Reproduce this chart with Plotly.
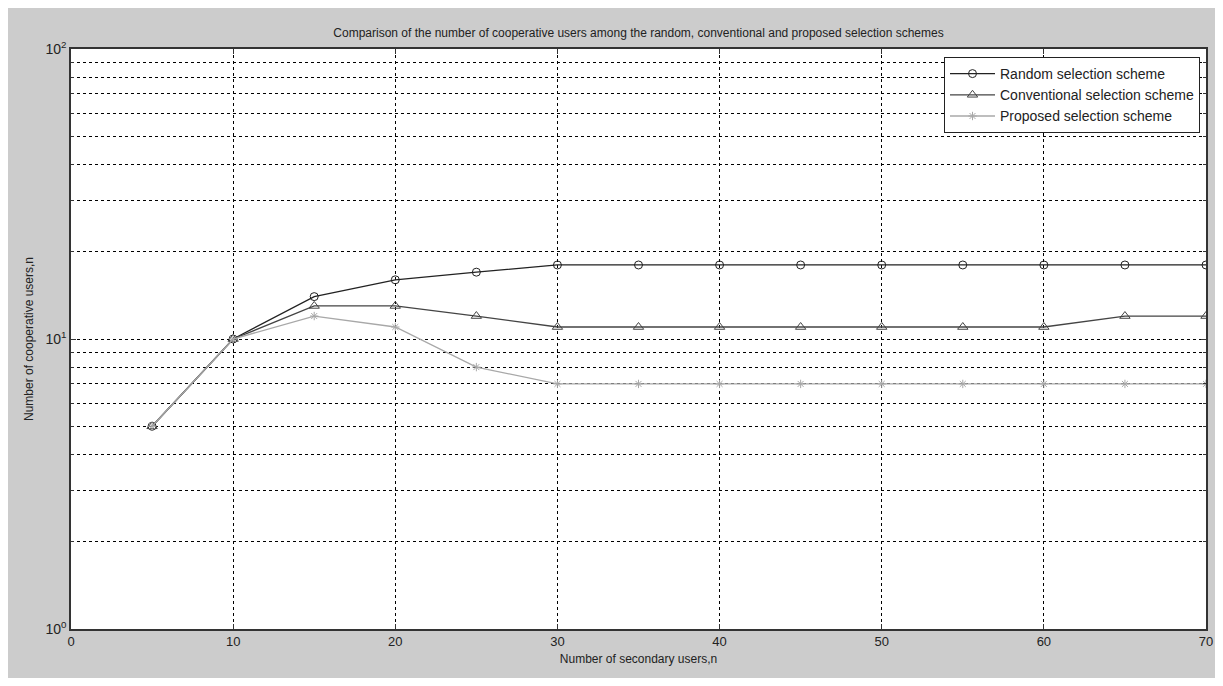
import plotly.graph_objects as go

x_users = [5, 10, 15, 20, 25, 30, 35, 40, 45, 50, 55, 60, 65, 70]
random_sel = [5, 10, 14, 16, 17, 18, 18, 18, 18, 18, 18, 18, 18, 18]
conventional_sel = [5, 10, 13, 13, 12, 11, 11, 11, 11, 11, 11, 11, 12, 12]
proposed_sel = [5, 10, 12, 11, 8, 7, 7, 7, 7, 7, 7, 7, 7, 7]

OX, OY = 8, 8  # page offset of the figure (body margin)
W, H = 1223 - 2 * OX, 686 - 2 * OY
L, R, T, B = 71 - OX, 1206 - OX, 49 - OY, 629 - OY

fig = go.Figure()
fig.add_trace(go.Scatter(x=x_users, y=random_sel, mode="lines+markers",
                         name="Random selection scheme",
                         line=dict(color="#222222", width=1.3),
                         marker=dict(symbol="circle-open", size=8, color="#222222", line=dict(width=1))))
fig.add_trace(go.Scatter(x=x_users, y=conventional_sel, mode="lines+markers",
                         name="Conventional selection scheme",
                         line=dict(color="#444444", width=1.3),
                         marker=dict(symbol="triangle-up-open", size=9, color="#444444", line=dict(width=1))))
fig.add_trace(go.Scatter(x=x_users, y=proposed_sel, mode="lines+markers",
                         name="Proposed selection scheme",
                         line=dict(color="#a8a8a8", width=1.3),
                         marker=dict(symbol="asterisk-open", size=7, color="#a8a8a8", line=dict(width=1))))

pw = R - L
ph = B - T
def px_x(p):
    return (p - OX - L) / pw
def px_y(p):
    return (B - (p - OY)) / ph

dash = "3px,3px"
fig.update_layout(
    width=W, height=H,
    margin=dict(l=L, r=W - R, t=T, b=H - B, autoexpand=False),
    paper_bgcolor="#cccccc", plot_bgcolor="white",
    font=dict(family="Arial, Liberation Sans, sans-serif", size=12, color="#222222"),
    title=dict(text="Comparison of the number of cooperative users among the random, conventional and proposed selection schemes",
               x=(L + R) / 2 / W, xanchor="center", y=1 - (33 - OY) / H, yanchor="middle",
               font=dict(size=12, color="#222222")),
    xaxis=dict(range=[0, 70], tickvals=[0, 10, 20, 30, 40, 50, 60, 70], automargin=False,
               ticklabeloverflow="allow",
               showgrid=True, gridcolor="#000000", griddash=dash, gridwidth=1,
               showline=True, linecolor="#333333", linewidth=1.5, mirror="ticks",
               ticks="inside", ticklen=5, tickcolor="#333333", zeroline=False,
               tickfont=dict(size=13),
               title=dict(text="Number of secondary users,n", standoff=6, font=dict(size=12))),
    yaxis=dict(type="log", range=[0, 2], tickvals=[1, 10, 100], automargin=False,
               ticktext=["10<sup>0</sup>", "10<sup>1</sup>", "10<sup>2</sup>"],
               showgrid=True, gridcolor="#000000", griddash=dash, gridwidth=1,
               showline=True, linecolor="#333333", linewidth=1.5, mirror="ticks",
               ticks="inside", ticklen=5, tickcolor="#333333", zeroline=False,
               tickfont=dict(size=14),
               minor=dict(tickvals=[2, 3, 4, 5, 6, 7, 8, 9, 20, 30, 40, 50, 60, 70, 80, 90],
                          showgrid=True, gridcolor="#000000", griddash=dash, gridwidth=1,
                          ticks="inside", ticklen=3, tickcolor="#333333"),
               title=dict(text="Number of cooperative users,n", standoff=9, font=dict(size=12))),
    legend=dict(x=px_x(1200), xanchor="right", y=px_y(57), yanchor="top",
                bgcolor="white", bordercolor="#222222", borderwidth=1, itemwidth=45,
                font=dict(size=14, color="#222222"), tracegroupgap=0),
    showlegend=True,
)

fig.write_html("out.html")
